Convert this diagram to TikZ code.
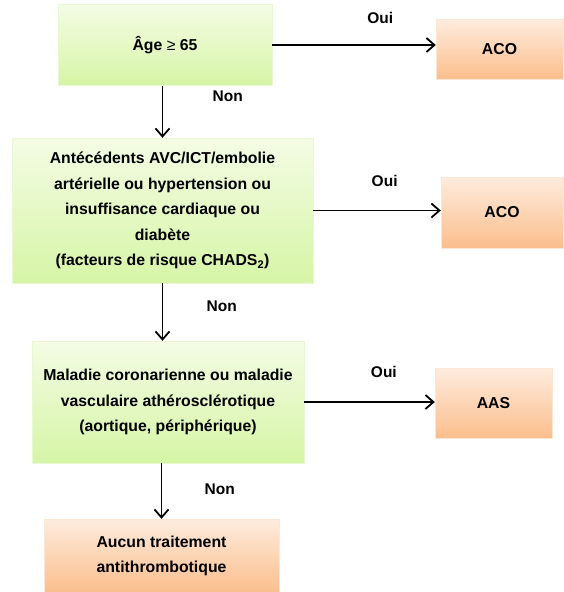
\documentclass[tikz,border=0pt]{standalone}
\usepackage{xcolor}
\usepackage{fontspec}
\setmainfont{Liberation Sans}
\usepackage{tikz}
\usetikzlibrary{arrows.meta}

\definecolor{vertHaut}{RGB}{244,252,228}
\definecolor{vertBas}{RGB}{214,245,166}
\definecolor{vertBord}{RGB}{232,248,210}
\definecolor{orangeHaut}{RGB}{254,236,222}
\definecolor{orangeBas}{RGB}{251,190,140}
\definecolor{orangeBord}{RGB}{253,230,210}

\tikzset{
    question/.style={draw=vertBord, top color=vertHaut, bottom color=vertBas, inner sep=0pt, align=center},
    reponse/.style={draw=orangeBord, top color=orangeHaut, bottom color=orangeBas, inner sep=0pt, align=center},
    fleche/.style={-{Straight Barb[length=8pt,width=14pt]}, line width=1.8pt},
    choix/.style={font=\fontsize{15.5}{17}\selectfont\bfseries}
}

\begin{document}
\begin{tikzpicture}[x=1pt, y=-1pt, font=\fontsize{15.8}{25.5}\selectfont\bfseries]
        \useasboundingbox (0,0) rectangle (564,592);
        % etapes du schema
        \node[question, minimum width=214pt, minimum height=81pt] (age) at (165,45) {Âge \textmd{≥} 65};
        \node[reponse, minimum width=127pt, minimum height=60pt] (aco1) at (499.5,49) {ACO};
        \node[question, minimum width=301pt, minimum height=145pt] (risque) at (162.5,210.5) {Antécédents AVC/ICT/embolie\\artérielle ou hypertension ou\\insuffisance cardiaque ou\\diabète\\(facteurs de risque CHADS\textsubscript{2})};
        \node[reponse, minimum width=122pt, minimum height=71pt] (aco2) at (502,212.5) {ACO};
        \node[question, minimum width=272pt, minimum height=122pt] (coro) at (168,402) {Maladie coronarienne ou maladie\\vasculaire athérosclérotique\\(aortique, périphérique)};
        \node[reponse, minimum width=117pt, minimum height=70pt] (aas) at (493.5,403) {AAS};
        \node[reponse, minimum width=235pt, minimum height=74pt] (aucun) at (161.5,556) {Aucun traitement\\antithrombotique};
        % fleches oui / non
        \draw[fleche] (age.east) -- (age.east -| aco1.west) node[choix, pos=0.66, above=17pt] {Oui};
        \draw[fleche] (risque.north |- age.south) -- (risque.north) node[choix, pos=0.2, right=46pt] {Non};
        \draw[fleche] (risque.east) -- (risque.east -| aco2.west) node[choix, pos=0.56, above=20pt] {Oui};
        \draw[fleche] (risque.south) -- (risque.south |- coro.north) node[choix, pos=0.4, right=40pt] {Non};
        \draw[fleche] (coro.east) -- (coro.east -| aas.west) node[choix, pos=0.61, above=20pt] {Oui};
        \draw[fleche] (aucun.north |- coro.south) -- (aucun.north) node[choix, pos=0.47, right=39pt] {Non};
    \end{tikzpicture}
\end{document}
